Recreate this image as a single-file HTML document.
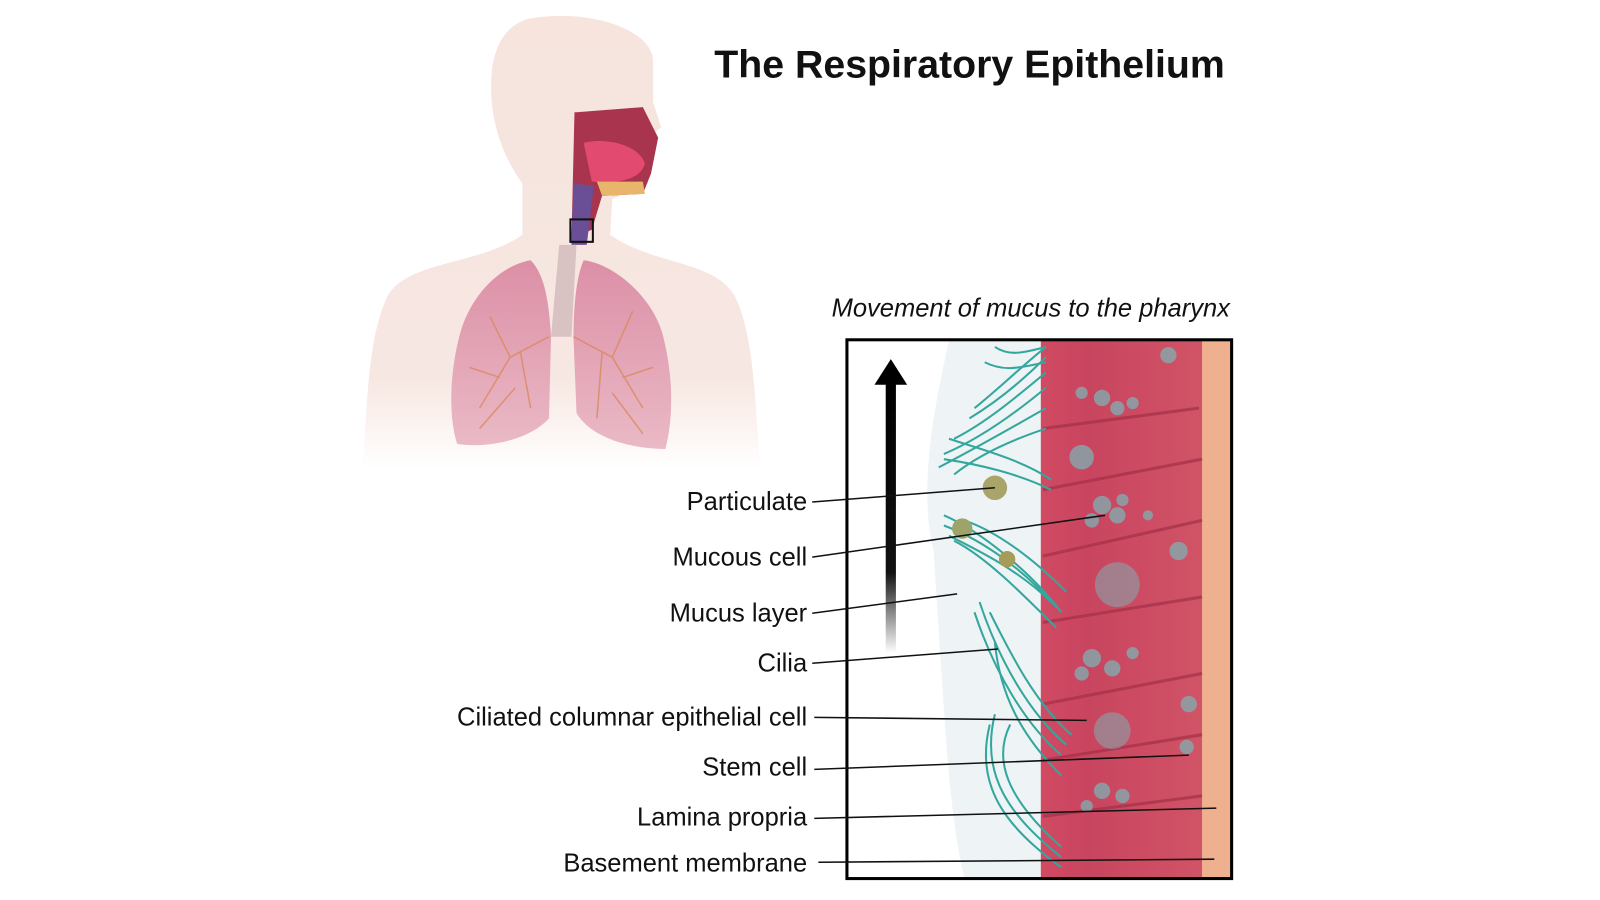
<!DOCTYPE html>
<html><head><meta charset="utf-8"><style>
html,body{margin:0;padding:0;background:#fff;}
svg{display:block}
text{font-family:"Liberation Sans",sans-serif;fill:#111}
</style></head><body>
<svg width="1600" height="900" viewBox="0 0 1568 882" xmlns="http://www.w3.org/2000/svg">
<defs>
<linearGradient id="bodyfade" x1="0" y1="0" x2="0" y2="1">
<stop offset="0" stop-color="#f6e4dd"/><stop offset="0.8" stop-color="#f7e7e2"/><stop offset="1" stop-color="#fff"/>
</linearGradient>
<linearGradient id="arr" x1="0" y1="0" x2="0" y2="1">
<stop offset="0" stop-color="#000"/><stop offset="0.7" stop-color="#111"/><stop offset="1" stop-color="#fff"/>
</linearGradient>
<linearGradient id="tis" x1="0" y1="0" x2="1" y2="0">
<stop offset="0" stop-color="#d04a62"/><stop offset="0.3" stop-color="#c94460"/><stop offset="1" stop-color="#d65b6c"/>
</linearGradient>
<linearGradient id="lung" x1="0" y1="0" x2="0" y2="1">
<stop offset="0" stop-color="#dc8fa6"/><stop offset="1" stop-color="#eab9c6"/>
</linearGradient>
</defs>

<path d="M520 18 C580 8 640 30 640 60 L640 100 L648 125 L635 135 L635 180 L600 195 L598 230 C640 260 700 255 720 290 C740 330 740 400 745 460 L355 460 C360 400 360 330 380 290 C400 255 470 260 512 230 L512 180 C490 150 478 110 482 70 C485 40 500 22 520 18 Z" fill="url(#bodyfade)"/>
<path d="M565 110 L630 105 L645 135 L638 170 L630 190 L590 192 L580 225 L560 235 L563 110 Z" fill="#a8344d"/>
<path d="M572 140 C590 135 625 140 632 160 C628 178 600 180 580 178 Z" fill="#e34a6f"/>
<path d="M585 178 L630 178 L632 190 L590 192 Z" fill="#e8b66b"/>
<path d="M562 180 L582 182 L575 240 L560 240 Z" fill="#6a4f96"/>
<rect x="559" y="215" width="22" height="22" fill="none" stroke="#111" stroke-width="2"/>
<path d="M548 240 L565 240 L560 330 L540 330 Z" fill="#d8c2c2"/>
<path d="M520 255 C490 260 460 290 450 330 C440 370 440 410 448 435 C480 440 520 430 538 410 L540 330 C538 300 535 270 520 255 Z" fill="url(#lung)"/>
<path d="M572 255 C600 258 640 290 650 330 C660 370 660 410 652 440 C620 440 580 430 565 405 L562 330 C562 300 565 270 572 255 Z" fill="url(#lung)"/>
<g stroke="#d98a5c" stroke-width="1.5" fill="none" opacity="0.8">
<path d="M538 330 L500 350 L470 400 M500 350 L480 310 M510 345 L520 400 M490 370 L460 360 M505 380 L470 420"/>
<path d="M562 330 L600 350 L630 400 M600 350 L620 305 M590 345 L585 410 M610 370 L640 360 M600 385 L630 425"/>
</g>

<text x="700" y="76" font-size="38.5" font-weight="bold">The Respiratory Epithelium</text>
<text x="815" y="310" font-size="25" font-style="italic">Movement of mucus to the pharynx</text>

<g>
<path d="M930 334 C915 400 900 480 915 540 C920 620 925 700 930 760 C935 810 940 840 945 860 L1025 860 L1025 334 Z" fill="#eef3f6"/>
<rect x="1020" y="334" width="160" height="527" fill="url(#tis)"/>
<rect x="1065" y="334" width="115" height="527" fill="#c8485e" opacity="0.35"/>
<rect x="1178" y="334" width="28" height="527" fill="#efb090"/>
<g stroke="#a33048" stroke-width="3" fill="none" opacity="0.7">
<path d="M1022 420 L1175 400"/><path d="M1022 480 L1178 450"/><path d="M1022 545 L1178 510"/>
<path d="M1022 610 L1178 585"/><path d="M1022 690 L1178 660"/><path d="M1022 745 L1178 720"/><path d="M1022 800 L1178 780"/>
</g>
<g fill="#7fb0b3" opacity="0.75">
<circle cx="1080" cy="390" r="8"/><circle cx="1095" cy="400" r="7"/><circle cx="1060" cy="385" r="6"/><circle cx="1110" cy="395" r="6"/>
<circle cx="1080" cy="495" r="9"/><circle cx="1095" cy="505" r="8"/><circle cx="1070" cy="510" r="7"/><circle cx="1100" cy="490" r="6"/><circle cx="1125" cy="505" r="5"/>
<circle cx="1095" cy="573" r="22" opacity="0.7"/>
<circle cx="1070" cy="645" r="9"/><circle cx="1090" cy="655" r="8"/><circle cx="1060" cy="660" r="7"/><circle cx="1110" cy="640" r="6"/>
<circle cx="1090" cy="716" r="18" opacity="0.7"/><circle cx="1165" cy="690" r="8"/><circle cx="1163" cy="732" r="7"/>
<circle cx="1080" cy="775" r="8"/><circle cx="1100" cy="780" r="7"/><circle cx="1065" cy="790" r="6"/>
<circle cx="1155" cy="540" r="9"/><circle cx="1060" cy="448" r="12"/><circle cx="1145" cy="348" r="8"/>
</g>
<g stroke="#34a79d" stroke-width="2" fill="none">
<path d="M1025 340 C1000 360 980 380 955 400"/><path d="M1025 350 C1000 375 975 395 950 410"/>
<path d="M1025 365 C995 390 965 415 935 430"/><path d="M1025 380 C995 405 960 430 925 445"/>
<path d="M1025 400 C990 420 955 440 920 458"/><path d="M1025 420 C995 430 960 445 935 465"/>
<path d="M1025 340 C1005 345 990 350 975 340"/><path d="M1025 355 C1000 360 985 365 965 355"/>
<path d="M1030 470 C1000 450 960 440 930 430"/><path d="M1030 480 C1000 465 960 455 925 450"/>
<path d="M1040 600 C1010 560 960 520 925 505"/><path d="M1035 595 C1005 560 965 530 925 515"/>
<path d="M1030 590 C1000 560 960 540 930 525"/><path d="M1045 580 C1010 545 975 520 945 510"/>
<path d="M1035 615 C1000 580 965 545 935 530"/>
<path d="M1045 730 C1010 700 980 650 960 590"/><path d="M1040 740 C1005 710 975 660 955 600"/>
<path d="M1050 720 C1015 690 990 640 970 600"/><path d="M1040 760 C1000 720 980 680 975 630"/>
<path d="M1040 840 C990 800 960 760 975 700"/><path d="M1040 850 C985 810 955 770 970 710"/>
<path d="M1040 830 C995 790 970 750 990 710"/>
</g>
<circle cx="975" cy="478" r="12" fill="#a9a469"/>
<circle cx="943" cy="518" r="10" fill="#9da46a"/>
<circle cx="987" cy="548" r="8" fill="#a59c5a"/>
<rect x="830" y="333" width="377" height="528" fill="none" stroke="#000" stroke-width="3"/>
<rect x="868" y="375" width="10" height="265" fill="url(#arr)"/>
<polygon points="873,352 857,377 889,377" fill="#000"/>
</g>

<g font-size="25" text-anchor="end">
<text x="791" y="500">Particulate</text>
<text x="791" y="554">Mucous cell</text>
<text x="791" y="609">Mucus layer</text>
<text x="791" y="658">Cilia</text>
<text x="791" y="711">Ciliated columnar epithelial cell</text>
<text x="791" y="760">Stem cell</text>
<text x="791" y="809">Lamina propria</text>
<text x="791" y="854">Basement membrane</text>
</g>
<g stroke="#111" stroke-width="1.5">
<line x1="796" y1="492" x2="975" y2="478"/>
<line x1="796" y1="546" x2="1083" y2="505"/>
<line x1="796" y1="601" x2="938" y2="582"/>
<line x1="796" y1="650" x2="978" y2="636"/>
<line x1="798" y1="703" x2="1065" y2="706"/>
<line x1="798" y1="754" x2="1165" y2="740"/>
<line x1="798" y1="802" x2="1192" y2="792"/>
<line x1="802" y1="845" x2="1190" y2="842"/>
</g>
</svg>
</body></html>
